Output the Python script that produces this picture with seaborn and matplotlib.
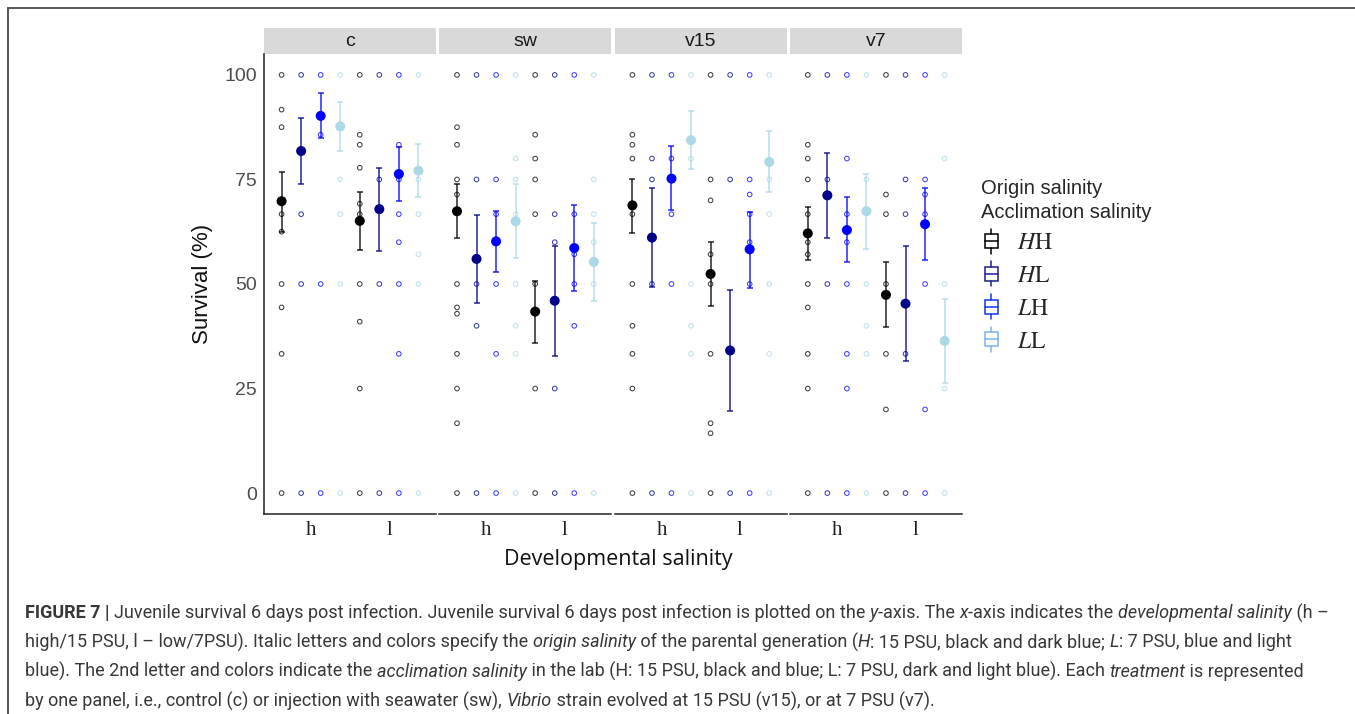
import numpy as np
import pandas as pd
import matplotlib
matplotlib.use("Agg")
import matplotlib.pyplot as plt
import seaborn as sns
from matplotlib.patches import Rectangle
from matplotlib.lines import Line2D
from matplotlib.legend_handler import HandlerBase
from matplotlib.font_manager import FontProperties

# ---------------------------------------------------------------- data
treatments = ["c", "sw", "v15", "v7"]
dev_levels = ["h", "l"]
groups = ["HH", "HL", "LH", "LL"]
group_labels = [r"$\mathit{H}\mathrm{H}$", r"$\mathit{H}\mathrm{L}$",
                r"$\mathit{L}\mathrm{H}$", r"$\mathit{L}\mathrm{L}$"]
group_colors = ["#000000", "#00008B", "#0000FF", "#ADD8E6"]
legend_colors = ["#000000", "#1C1C8E", "#1434F2", "#7FB3EE"]
y_ticks = [0, 25, 50, 75, 100]

# mean survival and bootstrap CI; order h-HH, h-HL, h-LH, h-LL, l-HH, l-HL, l-LH, l-LL
mean_c = [69.8, 81.8, 90.2, 87.7, 65.1, 67.9, 76.3, 77.1]
lo_c = [62.5, 73.8, 84.9, 81.9, 58.2, 57.9, 69.9, 70.8]
hi_c = [76.9, 89.7, 95.6, 93.6, 72.1, 77.8, 82.7, 83.4]

mean_sw = [67.4, 56.0, 60.2, 65.0, 43.4, 46.0, 58.6, 55.3]
lo_sw = [61.0, 45.4, 52.9, 56.2, 35.8, 32.7, 48.3, 45.9]
hi_sw = [73.8, 66.5, 67.5, 73.8, 50.8, 59.2, 68.9, 64.7]

mean_v15 = [68.8, 61.1, 75.2, 84.4, 52.4, 34.1, 58.3, 79.2]
lo_v15 = [62.3, 49.4, 67.6, 77.6, 44.8, 19.7, 49.1, 72.0]
hi_v15 = [75.2, 72.9, 83.0, 91.3, 60.0, 48.6, 67.3, 86.5]

mean_v7 = [62.1, 71.2, 62.9, 67.4, 47.4, 45.3, 64.3, 36.4]
lo_v7 = [55.8, 61.0, 55.2, 58.4, 39.7, 31.5, 55.7, 26.3]
hi_v7 = [68.5, 81.3, 70.9, 76.4, 55.2, 59.2, 72.9, 46.3]

# per-family survival values (%), same order as above
raw_c = [
    [100, 91.7, 87.5, 66.7, 62.5, 50, 44.4, 33.3, 0],
    [100, 66.7, 50, 0],
    [100, 85.7, 50, 0],
    [100, 75, 66.7, 50, 0],
    [100, 85.7, 83.3, 77.8, 69.2, 66.7, 50, 41, 25, 0],
    [100, 75, 50, 0],
    [100, 83.3, 75, 66.7, 60, 50, 33.3, 0],
    [100, 75, 66.7, 57.1, 50, 0],
]
raw_sw = [
    [100, 87.5, 83.3, 75, 71.4, 50, 44.4, 42.9, 33.3, 25, 16.7, 0],
    [100, 75, 50, 40, 0],
    [100, 75, 66.7, 50, 33.3, 0],
    [100, 80, 75, 66.7, 50, 40, 33.3, 0],
    [100, 85.7, 80, 75, 66.7, 50, 25, 0],
    [100, 66.7, 60, 25, 0],
    [100, 66.7, 57.1, 50, 40, 0],
    [100, 75, 66.7, 60, 50, 0],
]
raw_v15 = [
    [100, 85.7, 83.3, 80, 66.7, 50, 40, 33.3, 25, 0],
    [100, 80, 75, 50, 0],
    [100, 80, 66.7, 50, 0],
    [100, 80, 50, 40, 33.3, 0],
    [100, 75, 70, 57.1, 50, 33.3, 16.7, 14.3, 0],
    [100, 75, 0],
    [100, 75, 71.4, 66.7, 60, 50, 0],
    [100, 75, 66.7, 50, 33.3, 0],
]
raw_v7 = [
    [100, 83.3, 80, 75, 66.7, 60, 57.1, 50, 44.4, 33.3, 25, 0],
    [100, 75, 50, 0],
    [100, 80, 66.7, 60, 50, 33.3, 25, 0],
    [100, 75, 50, 40, 33.3, 0],
    [100, 71.4, 66.7, 50, 33.3, 20, 0],
    [100, 75, 66.7, 33.3, 0],
    [100, 75, 71.4, 66.7, 50, 20, 0],
    [100, 80, 50, 25, 0],
]

summary_sets = {"c": (mean_c, lo_c, hi_c), "sw": (mean_sw, lo_sw, hi_sw),
                "v15": (mean_v15, lo_v15, hi_v15), "v7": (mean_v7, lo_v7, hi_v7)}
raw_sets = {"c": raw_c, "sw": raw_sw, "v15": raw_v15, "v7": raw_v7}

# ---------------------------------------------------------------- tidy tables
dodge = {"HH": -0.375, "HL": -0.125, "LH": 0.125, "LL": 0.375}
rows, srows = [], []
for t in treatments:
    means, los, his = summary_sets[t]
    k = 0
    for di, d in enumerate(dev_levels):
        for g in groups:
            xpos = di + 1 + dodge[g]
            for v in raw_sets[t][k]:
                rows.append(dict(treatment=t, dev=d, group=g, x=xpos, survival=v))
            srows.append(dict(treatment=t, dev=d, group=g, x=xpos,
                              mean=means[k], lo=los[k], hi=his[k]))
            k += 1
raw_df = pd.DataFrame(rows)
sum_df = pd.DataFrame(srows)

# ---------------------------------------------------------------- figure
sns.set_theme(style="white")
plt.rcParams["font.family"] = ["Liberation Sans", "DejaVu Sans"]
plt.rcParams["mathtext.fontset"] = "stix"

W, H = 1355, 714
fig = plt.figure(figsize=(W / 100, H / 100), dpi=100)
fig.patch.set_facecolor("white")


def fx(px):
    return px / W


def fy(py):
    return 1 - py / H


# outer frame of the figure block
fig.patches.append(Rectangle((fx(8), fy(H + 20)), fx(W + 20), fy(8) - fy(H + 20),
                             transform=fig.transFigure, fill=False,
                             edgecolor="#4a4a4a", linewidth=1.3))

panel_left0, panel_w, panel_step = 264, 172, 175.4
ax_top, ax_bot = 54, 514
tick_grey = "#4D4D4D"
axes = []
for i, t in enumerate(treatments):
    left = panel_left0 + i * panel_step
    ax = fig.add_axes([fx(left), fy(ax_bot), panel_w / W, (ax_bot - ax_top) / H])
    axes.append(ax)
    sub = raw_df[raw_df.treatment == t]
    sns.scatterplot(data=sub, x="x", y="survival", hue="group", hue_order=groups,
                    palette=group_colors, s=11, ax=ax, legend=False, zorder=2)
    pts = ax.collections[-1]
    pts.set_edgecolors(pts.get_facecolors())
    pts.set_facecolors("none")
    pts.set_linewidth(0.75)
    pts.set_alpha(0.75)

    ssub = sum_df[sum_df.treatment == t]
    for g, col in zip(groups, group_colors):
        gs = ssub[ssub.group == g]
        ax.errorbar(gs["x"], gs["mean"], yerr=[gs["mean"] - gs["lo"], gs["hi"] - gs["mean"]],
                    fmt="none", ecolor=col, elinewidth=1.1, capsize=2.3, capthick=1.1,
                    alpha=0.85, zorder=3)
    sns.scatterplot(data=ssub, x="x", y="mean", hue="group", hue_order=groups,
                    palette=group_colors, s=52, linewidth=0, ax=ax, legend=False, zorder=4)

    ax.set_xlim(0.4, 2.6)
    ax.set_ylim(-5, 105)
    ax.set_xticks([1, 2])
    ax.set_xticklabels(dev_levels, family="Liberation Serif", fontsize=15, color="#222222")
    ax.set_yticks(y_ticks)
    ax.set_xlabel("")
    ax.set_ylabel("")
    for s in ["top", "right"]:
        ax.spines[s].set_visible(False)
    ax.spines["bottom"].set_color("#222222")
    ax.spines["bottom"].set_linewidth(1.1)
    ax.tick_params(axis="x", length=3, width=0.8, color="#888888", pad=2)
    if i == 0:
        ax.spines["left"].set_color("#222222")
        ax.spines["left"].set_linewidth(1.1)
        ax.tick_params(axis="y", length=3, width=0.8, color="#555555", pad=2,
                       labelsize=14, labelcolor=tick_grey)
        ax.set_ylabel("Survival (%)", fontsize=16, color="#111111")
        ax.yaxis.set_label_coords((213 - 264) / panel_w, 0.5)
    else:
        ax.spines["left"].set_visible(False)
        ax.tick_params(axis="y", left=False, labelleft=False)
    ax.set_facecolor("white")

    # facet strip
    strip_h = 26 / (ax_bot - ax_top)
    ax.add_patch(Rectangle((0, 1), 1, strip_h, transform=ax.transAxes,
                           facecolor="#D9D9D9", edgecolor="none", clip_on=False))
    ax.text(0.5, 1 + strip_h / 2, t, transform=ax.transAxes, ha="center", va="center",
            fontsize=14, color="#1a1a1a")

fig.text(fx(618), fy(560), "Developmental salinity", ha="center", va="center",
         fontsize=15.5, family=["Open Sans", "DejaVu Sans"], color="#111111")


# ---------------------------------------------------------------- legend
class BoxGlyph(HandlerBase):
    def create_artists(self, legend, orig_handle, xdescent, ydescent, width, height,
                       fontsize, trans):
        col = orig_handle.get_color()
        cx = -xdescent + width / 2
        cy = -ydescent + height / 2
        bw, bh, wh = 4.5, 5.0, 9.0
        arts = [
            Rectangle((cx - bw, cy - bh), 2 * bw, 2 * bh, fill=False, edgecolor=col, lw=1.1),
            Line2D([cx - bw, cx + bw], [cy, cy], color=col, lw=1.1),
            Line2D([cx, cx], [cy + bh, cy + wh], color=col, lw=1.1),
            Line2D([cx, cx], [cy - bh, cy - wh], color=col, lw=1.1),
        ]
        for a in arts:
            a.set_transform(trans)
        return arts


handles = [Line2D([], [], color=c) for c in legend_colors]
leg = fig.legend(handles, group_labels, handler_map={Line2D: BoxGlyph()},
                 loc="upper left", bbox_to_anchor=(fx(965), fy(163)), frameon=False,
                 title="Origin salinity\nAcclimation salinity", title_fontsize=14.5,
                 alignment="left", fontsize=17, handlelength=0.88, handleheight=0.95,
                 handletextpad=0.65, labelspacing=0.4, borderpad=0.18)
leg.get_title().set_linespacing(1.3)

# ---------------------------------------------------------------- caption
renderer = fig.canvas.get_renderer()
cap_color = "#383838"
cap_family = ["Roboto", "Liberation Sans", "DejaVu Sans"]

caption_lines = [
    [("FIGURE 7 | ", "bold"), ("Juvenile survival 6 days post infection. Juvenile survival 6 days post infection is plotted on the ", "n"),
     ("y", "it"), ("-axis. The ", "n"), ("x", "it"), ("-axis indicates the ", "n"), ("developmental salinity", "it"), (" (h –", "n")],
    [("high/15 PSU, l – low/7PSU). Italic letters and colors specify the ", "n"), ("origin salinity", "it"),
     (" of the parental generation (", "n"), ("H", "it"), (": 15 PSU, black and dark blue; ", "n"), ("L", "it"),
     (": 7 PSU, blue and light", "n")],
    [("blue). The 2nd letter and colors indicate the ", "n"), ("acclimation salinity", "it"),
     (" in the lab (H: 15 PSU, black and blue; L: 7 PSU, dark and light blue). Each ", "n"), ("treatment", "it"),
     (" is represented", "n")],
    [("by one panel, i.e., control (c) or injection with seawater (sw), ", "n"), ("Vibrio", "it"),
     (" strain evolved at 15 PSU (v15), or at 7 PSU (v7).", "n")],
]


def seg_props(style, size):
    if style == "bold":
        return FontProperties(family=cap_family, weight="bold", size=size)
    if style == "it":
        return FontProperties(family=cap_family, style="italic", weight="normal", size=size)
    return FontProperties(family=cap_family, weight="normal", size=size)


def seg_width(text, style, size):
    fp = seg_props(style, size)
    w1, _, _ = renderer.get_text_width_height_descent(text + "x", fp, ismath=False)
    w2, _, _ = renderer.get_text_width_height_descent("x", fp, ismath=False)
    return w1 - w2


def line_width(line, size):
    return sum(seg_width(s, st, size) for s, st in line)


base = 11.0
cap_size = base * (1300 / line_width(caption_lines[0], base))
for li, line in enumerate(caption_lines):
    xpx = 25
    ypx = 611 + li * 29.3
    for s, st in line:
        fp = seg_props(st, cap_size)
        fig.text(fx(xpx), fy(ypx), s, fontproperties=fp, color=cap_color,
                 ha="left", va="center_baseline")
        xpx += seg_width(s, st, cap_size)

fig.savefig("out.png", dpi=100, facecolor="white")
